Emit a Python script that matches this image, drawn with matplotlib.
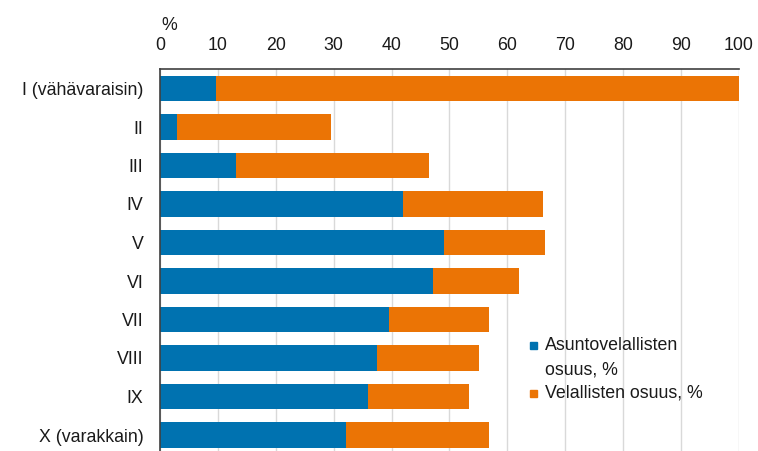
import matplotlib.pyplot as plt
from matplotlib.patches import Rectangle

plt.rcParams['font.family'] = ['Liberation Sans', 'DejaVu Sans']

# income deciles, poorest first
deciles = ["I (vähävaraisin)", "II", "III", "IV", "V",
           "VI", "VII", "VIII", "IX", "X (varakkain)"]
# share of households with housing loans, %
asuntovelalliset = [9.6, 2.9, 13.2, 42.0, 49.0, 47.1, 39.6, 37.4, 36.0, 32.1]
# share of all indebted households, %
velalliset = [100.0, 29.6, 46.5, 66.2, 66.5, 62.0, 56.8, 55.1, 53.4, 56.8]
x_ticks = [0, 10, 20, 30, 40, 50, 60, 70, 80, 90, 100]
series_labels = ["Asuntovelallisten\nosuus, %", "Velallisten osuus, %"]

blue = "#0072b0"
orange = "#eb7405"
txt = "#1a1a1a"
fs = 12.8

W, H = 758, 451
fig = plt.figure(figsize=(W / 100, H / 100), dpi=100)
ax = fig.add_axes([160 / W, (H - 454.25) / H, (739 - 160) / W, (454.25 - 69.25) / H])

ypos = list(range(len(deciles)))
rest = [v - a for v, a in zip(velalliset, asuntovelalliset)]
ax.barh(ypos, asuntovelalliset, height=0.65, color=blue, zorder=2)
ax.barh(ypos, rest, left=asuntovelalliset, height=0.65, color=orange, zorder=2)

ax.set_xlim(0, 100)
ax.set_ylim(len(deciles) - 0.5, -0.5)
ax.set_xticks(x_ticks)
ax.set_yticks(ypos)
ax.set_yticklabels(deciles)
ax.xaxis.tick_top()
ax.tick_params(axis="x", length=0, pad=11, labelsize=fs, colors=txt)
ax.tick_params(axis="y", length=0, pad=12, labelsize=fs, colors=txt)
ax.grid(axis="x", color="#d9d9d9", linewidth=1, zorder=0)

for side in ["right", "bottom"]:
    ax.spines[side].set_visible(False)
ax.spines["top"].set_color("#404040")
ax.spines["left"].set_color("#404040")
ax.spines["top"].set_linewidth(1.2)
ax.spines["left"].set_linewidth(1.2)

fig.text(169 / W, 1 - 26 / H, "%", ha="center", va="center", fontsize=fs, color=txt)

# legend drawn by hand so the marker sits on the first text line
legend_rows = [(345, series_labels[0], blue), (393, series_labels[1], orange)]
for y, label, col in legend_rows:
    fig.patches.append(Rectangle((530 / W, 1 - (y + 3.5) / H), 7 / W, 7 / H,
                                 transform=fig.transFigure, color=col))
    fig.text(545 / W, 1 - (y - 8) / H, label, ha="left", va="top",
             fontsize=fs, color=txt, linespacing=1.55)

fig.savefig("out.png", dpi=100)
